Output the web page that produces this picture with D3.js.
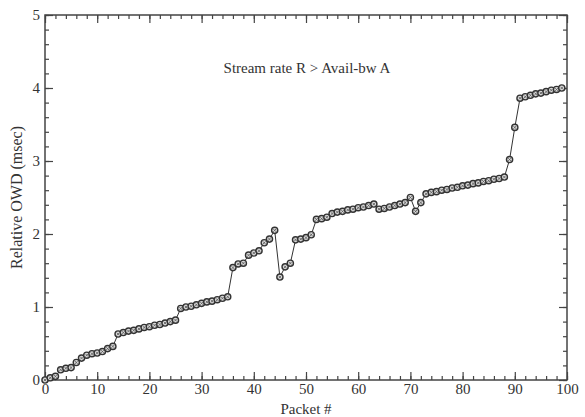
<!DOCTYPE html>
<html>
<head>
<meta charset="utf-8">
<script src="https://cdn.jsdelivr.net/npm/d3@7/dist/d3.min.js"></script>
<style>
  html, body { margin: 0; padding: 0; background: #fff; }
  svg text { font-family: "Liberation Serif", "Times New Roman", serif; fill: #333; }
</style>
</head>
<body>
<svg id="chart" width="585" height="417"></svg>
<script>
// Relative one-way delay per packet of the probing stream
const packets = d3.range(0, 100);
const owd = [
  0.00, 0.03, 0.05, 0.14, 0.16, 0.17, 0.24, 0.30, 0.34, 0.36,
  0.37, 0.39, 0.43, 0.46, 0.63, 0.65, 0.67, 0.68, 0.70, 0.72,
  0.73, 0.75, 0.76, 0.78, 0.80, 0.82, 0.98, 1.00, 1.01, 1.03,
  1.05, 1.07, 1.08, 1.10, 1.12, 1.14, 1.54, 1.59, 1.60, 1.71,
  1.74, 1.77, 1.88, 1.93, 2.05, 1.41, 1.55, 1.60, 1.92, 1.93,
  1.95, 1.99, 2.20, 2.21, 2.23, 2.28, 2.30, 2.31, 2.33, 2.34,
  2.36, 2.37, 2.39, 2.41, 2.34, 2.35, 2.37, 2.39, 2.41, 2.43,
  2.50, 2.31, 2.43, 2.55, 2.57, 2.58, 2.60, 2.61, 2.63, 2.64,
  2.66, 2.67, 2.69, 2.70, 2.72, 2.73, 2.75, 2.76, 2.78, 3.02,
  3.46, 3.86, 3.88, 3.90, 3.92, 3.93, 3.95, 3.97, 3.98, 4.00
];
const xTicks = [0, 10, 20, 30, 40, 50, 60, 70, 80, 90, 100];
const yTicks = [0, 1, 2, 3, 4, 5];
const xMinor = d3.range(0, 101, 2);
const yMinor = d3.range(0, 5.01, 0.2);
const title = "Stream rate R > Avail-bw A";
const xLabel = "Packet #";
const yLabel = "Relative OWD (msec)";

const data = packets.map((p, i) => ({ p, v: owd[i] }));

const margin = { left: 45, right: 18, top: 15, bottom: 37 };
const W = 585, H = 417;
const svg = d3.select("#chart");
const x = d3.scaleLinear().domain([0, 100]).range([margin.left, W - margin.right]);
const y = d3.scaleLinear().domain([0, 5]).range([H - margin.bottom, margin.top]);

const axisColor = "#444";

function styleAxis(g) {
  g.select(".domain").remove();
  g.selectAll(".tick line").attr("stroke", axisColor).attr("stroke-width", 1.2);
  g.selectAll(".tick text").attr("font-size", 15).attr("fill", "#333")
    .style("font-family", '"Liberation Serif", serif');
}

// minor ticks (inward) on all four sides
svg.append("g").attr("transform", `translate(0,${y(0)})`)
  .call(d3.axisBottom(x).tickValues(xMinor).tickSize(-4).tickFormat(""))
  .call(styleAxis);
svg.append("g").attr("transform", `translate(0,${y(5)})`)
  .call(d3.axisTop(x).tickValues(xMinor).tickSize(-4).tickFormat(""))
  .call(styleAxis);
svg.append("g").attr("transform", `translate(${x(0)},0)`)
  .call(d3.axisLeft(y).tickValues(yMinor).tickSize(-4).tickFormat(""))
  .call(styleAxis);
svg.append("g").attr("transform", `translate(${x(100)},0)`)
  .call(d3.axisRight(y).tickValues(yMinor).tickSize(-4).tickFormat(""))
  .call(styleAxis);

// major ticks with labels
svg.append("g").attr("transform", `translate(0,${y(0)})`)
  .call(d3.axisBottom(x).tickValues(xTicks).tickSize(-8).tickFormat(d3.format("d")))
  .call(styleAxis)
  .call(g => g.selectAll(".tick text").attr("y", 3));
svg.append("g").attr("transform", `translate(0,${y(5)})`)
  .call(d3.axisTop(x).tickValues(xTicks).tickSize(-8).tickFormat(""))
  .call(styleAxis);
svg.append("g").attr("transform", `translate(${x(0)},0)`)
  .call(d3.axisLeft(y).tickValues(yTicks).tickSize(-8).tickFormat(d3.format("d")))
  .call(styleAxis)
  .call(g => g.selectAll(".tick text").attr("x", -5));
svg.append("g").attr("transform", `translate(${x(100)},0)`)
  .call(d3.axisRight(y).tickValues(yTicks).tickSize(-8).tickFormat(""))
  .call(styleAxis);

// frame
svg.append("rect")
  .attr("x", x(0)).attr("y", y(5))
  .attr("width", x(100) - x(0)).attr("height", y(0) - y(5))
  .attr("fill", "none").attr("stroke", axisColor).attr("stroke-width", 1.5);

// delay line
svg.append("path")
  .datum(data)
  .attr("fill", "none")
  .attr("stroke", "#333")
  .attr("stroke-width", 1)
  .attr("d", d3.line().x(d => x(d.p)).y(d => y(d.v)));

// packet markers
const marks = svg.append("g").selectAll("g").data(data).join("g")
  .attr("transform", d => `translate(${x(d.p)},${y(d.v)})`);
marks.append("circle")
  .attr("r", 3.1)
  .attr("fill", "#d8d8d8")
  .attr("stroke", "#333")
  .attr("stroke-width", 1.4);
marks.append("path")
  .attr("d", "M-1.4,-1.4L1.4,1.4M-1.4,1.4L1.4,-1.4")
  .attr("stroke", "#555")
  .attr("stroke-width", 0.8);

// texts
svg.append("text")
  .attr("x", 307).attr("y", 73)
  .attr("text-anchor", "middle")
  .attr("font-size", 15)
  .text(title);

svg.append("text")
  .attr("x", (x(0) + x(100)) / 2).attr("y", 414)
  .attr("text-anchor", "middle")
  .attr("font-size", 15)
  .text(xLabel);

svg.append("text")
  .attr("transform", `translate(22,${(y(0) + y(5)) / 2}) rotate(-90)`)
  .attr("text-anchor", "middle")
  .attr("font-size", 16)
  .text(yLabel);
</script>
</body>
</html>
